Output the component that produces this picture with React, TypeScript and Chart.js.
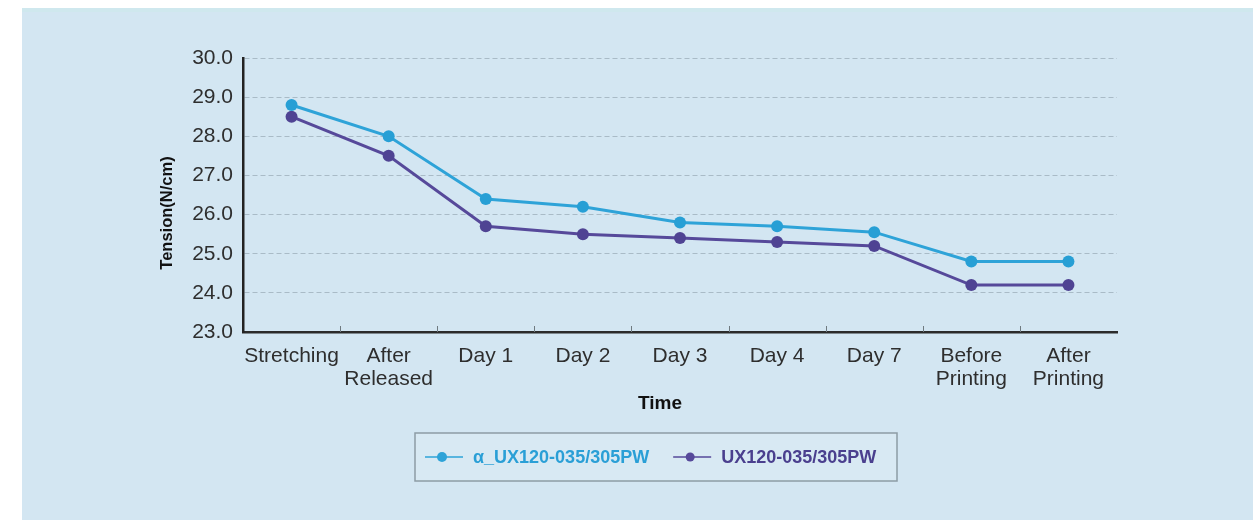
import React, { useEffect, useRef } from "react";
import { Chart, registerables } from "chart.js";

Chart.register(...registerables);

const categories: (string | string[])[] = [
  "Stretching",
  ["After", "Released"],
  "Day 1",
  "Day 2",
  "Day 3",
  "Day 4",
  "Day 7",
  ["Before", "Printing"],
  ["After", "Printing"],
];
const seriesAlphaLabel = "α_UX120-035/305PW";
const seriesAlpha = [28.8, 28.0, 26.4, 26.2, 25.8, 25.7, 25.55, 24.8, 24.8];
const seriesStdLabel = "UX120-035/305PW";
const seriesStd = [28.5, 27.5, 25.7, 25.5, 25.4, 25.3, 25.2, 24.2, 24.2];
const yTicks = [23, 24, 25, 26, 27, 28, 29, 30];
const yTitle = "Tension(N/cm)";
const xTitle = "Time";

const FONT = "'Liberation Sans', Arial, Helvetica, sans-serif";
const CYAN = "#2ea3d8";
const CYAN_TEXT = "#2a9fd6";
const PURPLE = "#56499a";
const PURPLE_TEXT = "#4a3f8e";

const extrasPlugin = {
  id: "extras",
  afterDraw(chart: any) {
    const { ctx, chartArea } = chart;
    const xs = chart.scales.x;
    ctx.save();
    // small upward tick marks between categories
    ctx.strokeStyle = "#6f7a80";
    ctx.lineWidth = 1;
    for (let i = 1; i < categories.length; i++) {
      const px = (xs.getPixelForValue(i - 1) + xs.getPixelForValue(i)) / 2;
      ctx.beginPath();
      ctx.moveTo(Math.round(px) + 0.5, chartArea.bottom);
      ctx.lineTo(Math.round(px) + 0.5, chartArea.bottom - 6);
      ctx.stroke();
    }
    // axis titles
    ctx.fillStyle = "#111";
    ctx.font = `bold 16.5px ${FONT}`;
    ctx.textAlign = "center";
    ctx.textBaseline = "middle";
    ctx.save();
    ctx.translate(chartArea.left - 76, (chartArea.top + chartArea.bottom) / 2 + 18);
    ctx.rotate(-Math.PI / 2);
    ctx.fillText(yTitle, 0, 0);
    ctx.restore();
    ctx.font = `bold 19px ${FONT}`;
    ctx.fillText(xTitle, (chartArea.left + chartArea.right) / 2 - 20, chartArea.bottom + 72);

    // legend box
    const cx = (chartArea.left + chartArea.right) / 2 - 24;
    const bw = 482;
    const bh = 48;
    const bx = cx - bw / 2;
    const by = chartArea.bottom + 101;
    ctx.fillStyle = "#d8e9f3";
    ctx.fillRect(bx, by, bw, bh);
    ctx.strokeStyle = "#8d9ca5";
    ctx.lineWidth = 1.5;
    ctx.strokeRect(bx, by, bw, bh);
    const midY = by + bh / 2;
    const items = chart.data.datasets.map((d: any, i: number) => ({
      label: d.label,
      color: d.borderColor,
      textColor: i === 0 ? CYAN_TEXT : PURPLE_TEXT,
      r: i === 0 ? 5 : 4.5,
    }));
    let x = bx + 10;
    ctx.font = `bold 18px ${FONT}`;
    ctx.textAlign = "left";
    items.forEach((it: any) => {
      ctx.strokeStyle = it.color;
      ctx.lineWidth = 1.5;
      ctx.beginPath();
      ctx.moveTo(x, midY);
      ctx.lineTo(x + 38, midY);
      ctx.stroke();
      ctx.fillStyle = it.color;
      ctx.beginPath();
      ctx.arc(x + 17, midY, it.r, 0, Math.PI * 2);
      ctx.fill();
      ctx.fillStyle = it.textColor;
      ctx.fillText(it.label, x + 48, midY + 1);
      const w = ctx.measureText(it.label).width;
      x += 48 + w + 24;
    });
    ctx.restore();
  },
};

export default function App() {
  const ref = useRef<HTMLCanvasElement | null>(null);
  useEffect(() => {
    if (!ref.current) return;
    const chart = new Chart(ref.current, {
      type: "line",
      data: {
        labels: categories as any,
        datasets: [
          {
            label: seriesAlphaLabel,
            data: seriesAlpha,
            borderColor: CYAN,
            backgroundColor: CYAN,
            pointBackgroundColor: "#279fd5",
            pointBorderColor: "#279fd5",
            borderWidth: 3,
            pointRadius: 6,
            pointBorderWidth: 0,
            tension: 0,
          },
          {
            label: seriesStdLabel,
            data: seriesStd,
            borderColor: PURPLE,
            backgroundColor: PURPLE,
            pointBackgroundColor: "#4f4393",
            pointBorderColor: "#4f4393",
            borderWidth: 3,
            pointRadius: 6,
            pointBorderWidth: 0,
            tension: 0,
          },
        ],
      },
      options: {
        responsive: false,
        animation: false,
        devicePixelRatio: 1,
        layout: { padding: { left: 131, right: 136, top: 46, bottom: 108 } },
        plugins: { legend: { display: false }, tooltip: { enabled: false } },
        scales: {
          x: {
            offset: true,
            afterFit: (s: any) => {
              s.height = 80;
            },
            grid: { display: true, drawOnChartArea: false, drawTicks: false },
            border: { display: true, color: "#2b2b2b", width: 2.5 },
            ticks: {
              color: "#2e2e2e",
              padding: 13,
              font: { family: FONT, size: 21, lineHeight: 1.1 },
              maxRotation: 0,
              autoSkip: false,
            },
          },
          y: {
            min: 23,
            max: 30,
            afterFit: (s: any) => {
              s.width = 90;
            },
            afterBuildTicks: (s: any) => {
              s.ticks = yTicks.map((v) => ({ value: v }));
            },
            grid: {
              color: "#a9bbc7",
              lineWidth: 1,
              drawTicks: false,
            },
            border: { display: true, color: "#222", width: 2.5, dash: [5, 3] as any },
            ticks: {
              color: "#2e2e2e",
              padding: 10,
              font: { family: FONT, size: 21 },
              callback: (v: any) => Number(v).toFixed(1),
            },
          },
        },
      },
      plugins: [extrasPlugin],
    });
    return () => chart.destroy();
  }, []);
  return (
    <div
      style={{
        position: "absolute",
        left: 22,
        top: 8,
        width: 1231,
        height: 512,
        background: "#d3e6f2",
        borderTop: "4px solid #cfe8ee",
        boxSizing: "border-box",
        overflow: "hidden",
      }}
    >
      <canvas ref={ref} width={1231} height={508} style={{ display: "block" }} />
    </div>
  );
}
